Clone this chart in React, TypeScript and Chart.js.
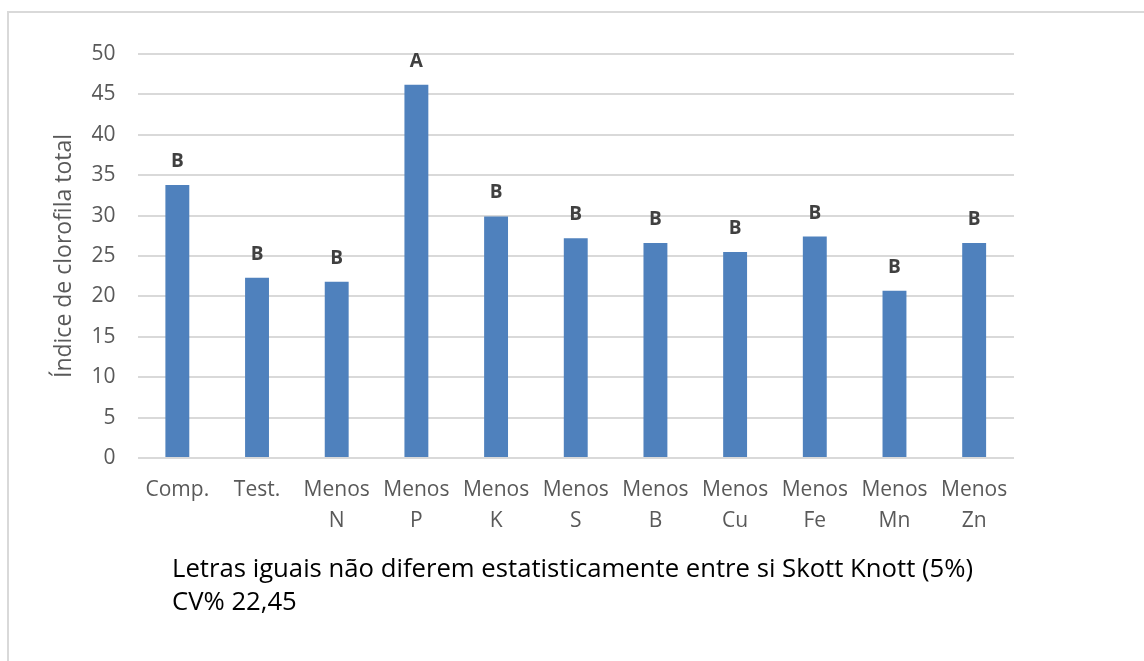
import React, { useEffect, useRef } from "react";
import { Chart, registerables } from "chart.js";

Chart.register(...registerables);

const categories: string[][] = [
  ["Comp."],
  ["Test."],
  ["Menos", "N"],
  ["Menos", "P"],
  ["Menos", "K"],
  ["Menos", "S"],
  ["Menos", "B"],
  ["Menos", "Cu"],
  ["Menos", "Fe"],
  ["Menos", "Mn"],
  ["Menos", "Zn"],
];
const values: number[] = [33.8, 22.3, 21.8, 46.2, 29.9, 27.2, 26.6, 25.5, 27.4, 20.7, 26.6];
const letters: string[] = ["B", "B", "B", "A", "B", "B", "B", "B", "B", "B", "B"];
const yMin = 0;
const yMax = 50;
const yStep = 5;
const yTitle = "Índice de clorofila total";
const captionLines: string[] = [
  "Letras iguais não diferem estatisticamente entre si Skott Knott (5%)",
  "CV% 22,45",
];

const FONT = "'Open Sans', 'Noto Sans', sans-serif";

const lettersPlugin = {
  id: "letters",
  afterDatasetsDraw(chart: any) {
    const ctx = chart.ctx;
    const meta = chart.getDatasetMeta(0);
    ctx.save();
    ctx.font = `bold 19px ${FONT}`;
    ctx.fillStyle = "#404040";
    ctx.textAlign = "center";
    ctx.textBaseline = "alphabetic";
    meta.data.forEach((bar: any, i: number) => {
      ctx.fillText(letters[i], bar.x, bar.y - 18);
    });
    ctx.restore();
  },
};

export default function App() {
  const canvasRef = useRef<HTMLCanvasElement | null>(null);

  useEffect(() => {
    document.body.style.margin = "0";
    document.body.style.overflow = "hidden";
    const canvas = canvasRef.current;
    if (!canvas) return;
    const chart = new Chart(canvas, {
      type: "bar",
      data: {
        labels: categories,
        datasets: [
          {
            data: values,
            backgroundColor: "#4f81bd",
            borderWidth: 0,
            barPercentage: 0.3,
            categoryPercentage: 1,
          },
        ],
      },
      options: {
        responsive: false,
        animation: false,
        devicePixelRatio: 1,
        layout: { padding: { left: 47, right: 130, top: 54, bottom: 123 } },
        plugins: {
          legend: { display: false },
          tooltip: { enabled: false },
          title: { display: false },
        },
        scales: {
          x: {
            grid: { display: false, drawTicks: false },
            border: { display: false },
            ticks: {
              color: "#595959",
              font: { family: FONT, size: 21, lineHeight: 1.5 },
              padding: 16,
              maxRotation: 0,
              minRotation: 0,
              autoSkip: false,
            },
            afterFit: (scale: any) => {
              scale.height = 80;
            },
          },
          y: {
            min: yMin,
            max: yMax,
            ticks: {
              stepSize: yStep,
              color: "#595959",
              font: { family: FONT, size: 21 },
              padding: 22,
            },
            grid: { color: "#d9d9d9", lineWidth: 2, drawTicks: false },
            border: { display: false },
            title: {
              display: true,
              text: yTitle,
              color: "#595959",
              font: { family: FONT, size: 23, lineHeight: 1.2 },
              padding: { top: 4, bottom: 4 },
            },
            afterFit: (scale: any) => {
              scale.width = 90.5;
            },
          },
        },
      },
      plugins: [lettersPlugin],
    });
    return () => chart.destroy();
  }, []);

  return (
    <div
      style={{
        position: "absolute",
        left: 0,
        top: 0,
        width: 1144,
        height: 661,
        overflow: "hidden",
        background: "#ffffff",
      }}
    >
      <div
        style={{
          position: "absolute",
          left: 7,
          top: 11,
          width: 1300,
          height: 800,
          borderLeft: "2px solid #d9d9d9",
          borderTop: "2px solid #d9d9d9",
        }}
      />
      <canvas
        ref={canvasRef}
        width={1144}
        height={661}
        style={{ position: "absolute", left: 0, top: 0, width: 1144, height: 661 }}
      />
      <div
        style={{
          position: "absolute",
          left: 172,
          top: 551,
          fontFamily: FONT,
          fontSize: 25.7,
          lineHeight: "33px",
          color: "#000000",
          whiteSpace: "nowrap",
        }}
      >
        {captionLines.map((l, i) => (
          <div key={i}>{l}</div>
        ))}
      </div>
    </div>
  );
}
